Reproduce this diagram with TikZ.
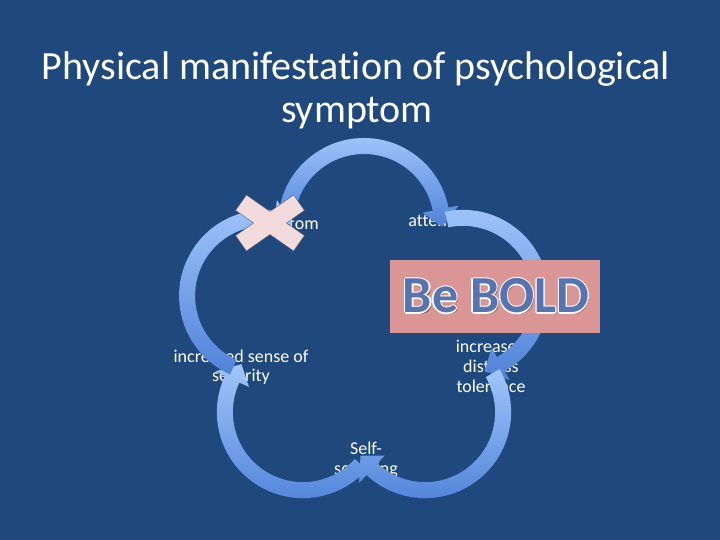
\documentclass[tikz,border=0pt]{standalone}
\usepackage{fontspec}
\setmainfont{Carlito}[Ligatures={NoCommon,NoContextual},Contextuals=NoAlternate]
\definecolor{bg}{RGB}{31,73,125}
\definecolor{arctop}{RGB}{160,198,250}
\definecolor{arcbot}{RGB}{80,130,216}
\definecolor{boldbox}{RGB}{217,150,148}
\definecolor{boldtext}{RGB}{86,116,176}
\definecolor{boldshadow}{RGB}{125,80,95}
\definecolor{xfill}{RGB}{242,220,219}
\definecolor{xline}{RGB}{105,105,125}
\begin{document}
\begin{tikzpicture}[x=1pt,y=1pt,
  titletext/.style={text=white,inner sep=0pt,anchor=base,font=\fontsize{40}{44}\selectfont},
  labeltext/.style={text=white,inner sep=0pt,anchor=base,font=\fontsize{18}{20}\selectfont},
  boldtxt/.style={inner sep=0pt,anchor=base,font=\fontsize{52}{56}\selectfont\bfseries},
  arcshade/.style={top color=arctop,bottom color=arcbot}]
\fill[bg] (0,0) rectangle (720,540);
\useasboundingbox (0,0) rectangle (720,540);
% title
\node[titletext] (title1) at (356,460) {Physical manifestat\kern0pt ion of psychological};
\node[titletext] (title2) at (357,417) {symptom};
% labels
\node[labeltext] (sym) at (284.5,310) {symptom};
\node[labeltext] (att) at (442,313) {attent\kern0pt ion};
\node[labeltext] (dist1) at (491,187) {increased};
\node[labeltext] (dist2) at (491,167) {distress};
\node[labeltext] (dist3) at (491,147) {tolerance};
\node[labeltext] (sec1) at (241,177) {increased sense of};
\node[labeltext] (sec2) at (241,158) {security};
\node[labeltext] (self1) at (366,85) {Self-};
\node[labeltext] (self2) at (366,65) {soothing};
% circular arrows
\foreach \p in {90,18,-54,-126,-198}{
  \begin{scope}[shift={({364+104*cos(\p)},{212+104*sin(\p)})}]
    \shade[arcshade] (\p+84:86) arc[start angle=\p+84,end angle=\p-79,radius=86]
      -- (\p-79:96.5) -- (\p-92:78) -- (\p-79:59.5) -- (\p-79:70)
      arc[start angle=\p-79,end angle=\p+84,radius=70] -- cycle;
  \end{scope}
}
% Be BOLD box
\fill[boldbox] (390,207) rectangle (600,280);
\node[boldtxt,text=boldshadow] (boldsh) at (497.6,225.4) {Be BOLD};
\foreach \dx/\dy in {1.1/0,-1.1/0,0/1.1,0/-1.1,0.8/0.8,-0.8/0.8,0.8/-0.8,-0.8/-0.8}{
  \node[boldtxt,text=white] at (496+\dx,227+\dy) {Be BOLD};
}
\node[boldtxt,text=boldtext] (bold) at (496,227) {Be BOLD};
% cross mark
\begin{scope}[shift={(270,317)}]
  \foreach \a in {35,-35} \draw[xline,line width=1.2pt,rotate=\a] (-35,-9) rectangle (35,9);
  \foreach \a in {35,-35} \fill[xfill,rotate=\a] (-35,-9) rectangle (35,9);
\end{scope}
\end{tikzpicture}
\end{document}
